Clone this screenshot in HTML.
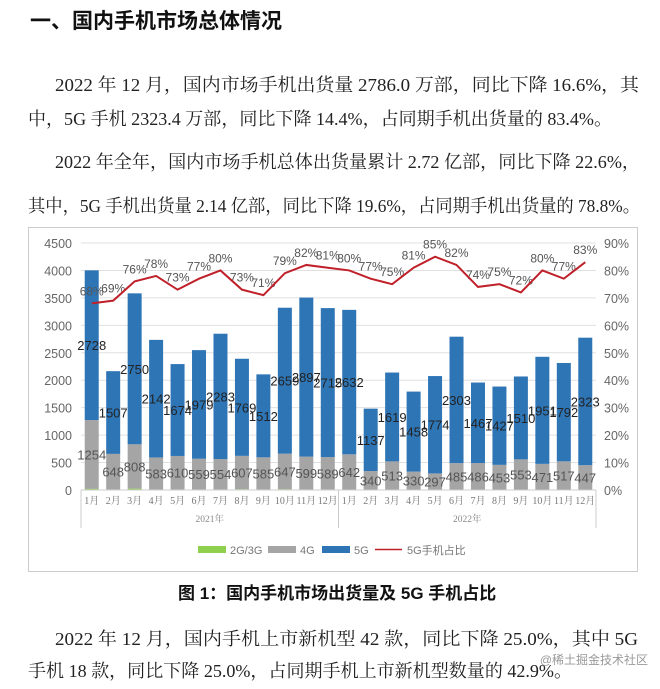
<!DOCTYPE html>
<html><head><meta charset="utf-8"><style>
html,body{margin:0;padding:0;background:#fff;width:660px;height:689px;overflow:hidden}
svg text{font-family:"Liberation Serif","Noto Serif CJK SC",serif}
</style></head><body>
<svg width="660" height="689" xmlns="http://www.w3.org/2000/svg">
<text x="30" y="28" font-size="21" font-weight="bold" fill="#111" style="font-family:'Liberation Sans','Noto Sans CJK SC',sans-serif">一、国内手机市场总体情况</text>
<g font-size="18" fill="#222">
<text x="55" y="91" textLength="584" lengthAdjust="spacingAndGlyphs">2022 年 12 月，国内市场手机出货量 2786.0 万部，同比下降 16.6%，其</text>
<text x="28" y="125" textLength="584" lengthAdjust="spacingAndGlyphs">中，5G 手机 2323.4 万部，同比下降 14.4%，占同期手机出货量的 83.4%。</text>
</g>
<g font-size="18" fill="#222">
<text x="55" y="168" textLength="585" lengthAdjust="spacingAndGlyphs">2022 年全年，国内市场手机总体出货量累计 2.72 亿部，同比下降 22.6%，</text>
<text x="28" y="212" textLength="612" lengthAdjust="spacingAndGlyphs">其中，5G 手机出货量 2.14 亿部，同比下降 19.6%，占同期手机出货量的 78.8%。</text>
</g>
<rect x="28.5" y="227.5" width="609" height="344" fill="#fff" stroke="#ccc"/>
<g id="chart"></g>
<text x="178" y="599" font-size="17" font-weight="bold" fill="#111" style="font-family:'Liberation Sans','Noto Sans CJK SC',sans-serif">图 1：国内手机市场出货量及 5G 手机占比</text>
<g font-size="18" fill="#222">
<text x="55" y="645" textLength="583" lengthAdjust="spacingAndGlyphs">2022 年 12 月，国内手机上市新机型 42 款，同比下降 25.0%，其中 5G</text>
<text x="28" y="677" textLength="544" lengthAdjust="spacingAndGlyphs">手机 18 款，同比下降 25.0%，占同期手机上市新机型数量的 42.9%。</text>
</g>
<text x="648" y="664" text-anchor="end" font-size="12" fill="#999" style="font-family:'Liberation Sans','Noto Sans CJK SC',sans-serif">@稀土掘金技术社区</text>
</svg>
<script>
const months=["1月","2月","3月","4月","5月","6月","7月","8月","9月","10月","11月","12月","1月","2月","3月","4月","5月","6月","7月","8月","9月","10月","11月","12月"];
const years=["2021年","2022年"];
const g23=[20,10,25,10,10,10,10,15,10,15,10,10,8,5,8,5,5,5,5,5,5,5,5,5];
const g4=[1254,648,808,583,610,559,554,607,585,647,599,589,642,340,513,330,297,485,486,453,553,471,517,447];
const g5=[2728,1507,2750,2142,1674,1979,2283,1769,1512,2659,2897,2715,2632,1137,1619,1458,1774,2303,1467,1427,1510,1951,1792,2323];
const pct=[68,69,76,78,73,77,80,73,71,79,82,81,80,77,75,81,85,82,74,75,72,80,77,83];
const leftTicks=[0,500,1000,1500,2000,2500,3000,3500,4000,4500];
const rightTicks=[0,10,20,30,40,50,60,70,80,90];
const NS="http://www.w3.org/2000/svg";
const root=document.getElementById('chart');
const y0=490,yTop=243,x0=81,x1=596;
const yL=v=>y0-(v/4500)*(y0-yTop);
const yR=v=>y0-(v/90)*(y0-yTop);
const step=(x1-x0)/months.length;
const xc=i=>x0+step*(i+0.5);
function mk(tag,attrs,txt){const e=document.createElementNS(NS,tag);for(const k in attrs)e.setAttribute(k,attrs[k]);if(txt!==undefined)e.textContent=txt;root.appendChild(e);return e;}
leftTicks.forEach((t,i)=>{
 const l=mk('line',{x1:x0,x2:x1,y1:yL(t),y2:yL(t),stroke:'#e0e0e0'});
 
 
 const a=mk('text',{x:72,y:yL(t)+5,'text-anchor':'end','font-size':12.5,fill:'#666',style:"font-family:'Liberation Sans',sans-serif"},t);
 
 
});
rightTicks.forEach(t=>{
 const a=mk('text',{x:604,y:yR(t)+5,'font-size':12.5,fill:'#666',style:"font-family:'Liberation Sans',sans-serif"},t+'%');
 
 
});
const bw=14;
months.forEach((m,i)=>{
 const x=xc(i)-bw/2;
 const a=mk('rect',{x:x,y:yL(g23[i]),width:bw,height:y0-yL(g23[i]),fill:'#8fd14f'});
 
 
 const b=mk('rect',{x:x,y:yL(g23[i]+g4[i]),width:bw,height:yL(g23[i])-yL(g23[i]+g4[i]),fill:'#a5a5a5'});
 
 
 const c=mk('rect',{x:x,y:yL(g23[i]+g4[i]+g5[i]),width:bw,height:yL(g23[i]+g4[i])-yL(g23[i]+g4[i]+g5[i]),fill:'#2e75b6'});
 
 
 const d=mk('text',{x:xc(i),y:yL(g23[i]+g4[i]/2)+5,'text-anchor':'middle','font-size':13,fill:'#555',style:"font-family:'Liberation Sans',sans-serif"},g4[i]);
 
 
 const e=mk('text',{x:xc(i),y:yL(g23[i]+g4[i]+g5[i]/2)+5,'text-anchor':'middle','font-size':13,fill:'#222',style:"font-family:'Liberation Sans',sans-serif"},g5[i]);
 
 
 const f=mk('text',{x:xc(i),y:504,'text-anchor':'middle','font-size':10,fill:'#777'},m);
 
 
 const p=mk('text',{x:xc(i),y:yR(pct[i])-8,'text-anchor':'middle','font-size':12,fill:'#555',style:"font-family:'Liberation Sans',sans-serif"},pct[i]+'%');
 
 
});
const line=mk('polyline',{points:pct.map((v,i)=>xc(i)+','+yR(v)).join(' '),fill:'none',stroke:'#c0202a','stroke-width':2});


const ax=mk('line',{x1:x0,x2:x1,y1:y0,y2:y0,stroke:'#ccc'});


[x0,x0+step*12,x1].forEach(x=>{
 const s=mk('line',{x1:x,x2:x,y1:y0,y2:528,stroke:'#ccc'});
 
 
});
years.forEach((yr,j)=>{
 const t=mk('text',{x:x0+step*(6+12*j),y:522,'text-anchor':'middle','font-size':9.5,fill:'#888'},yr);
 
 
});
const leg=[['#8fd14f','2G/3G',198],['#a5a5a5','4G',268],['#2e75b6','5G',322],['#c0202a','5G手机占比',375]];
leg.forEach(([c,l,x],k)=>{
 const r=k<3?mk('rect',{x:x,y:546,width:28,height:7,fill:c}):mk('line',{x1:x,x2:x+27,y1:549.5,y2:549.5,stroke:c,'stroke-width':1.5});
 
 
 const t=mk('text',{x:x+32,y:554,'font-size':11,fill:'#777',style:"font-family:'Liberation Sans','Noto Sans CJK SC',sans-serif"},l);
 
 
});
</script>
</body></html>
